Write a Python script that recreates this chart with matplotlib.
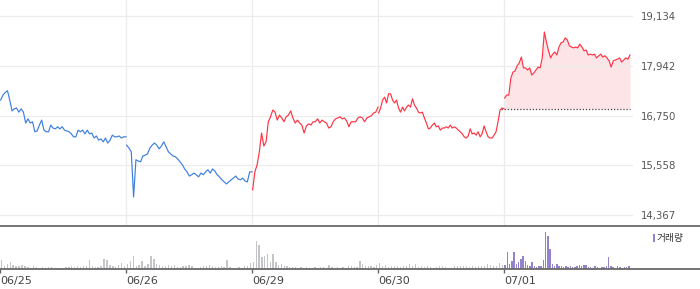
import numpy as np
import matplotlib
matplotlib.use("Agg")
import matplotlib.pyplot as plt
from matplotlib.patches import Rectangle
from matplotlib.lines import Line2D

matplotlib.rcParams['font.family'] = ['DejaVu Sans']

# x-axis day labels
days = ["06/25", "06/26", "06/29", "06/30", "07/01"]

# 5-minute prices for each trading day
price_d1 = [17120, 17240, 17300, 17345, 17120, 16860, 16910, 16930, 16830, 16910, 16830, 16570,
            16670, 16570, 16600, 16360, 16380, 16520, 16640, 16400, 16360, 16360, 16520, 16450,
            16430, 16480, 16430, 16480, 16400, 16380, 16360, 16310, 16240, 16240, 16400, 16360,
            16400, 16310, 16400, 16310, 16330, 16210, 16260, 16160, 16190, 16120, 16210, 16090,
            16160, 16280, 16240, 16240, 16260, 16210, 16240, 16240]
price_d2 = [16040, 15970, 15880, 14800, 15690, 15660, 15640, 15780, 15800, 15830, 15970, 16040,
            16090, 16040, 15950, 16020, 16120, 16000, 15880, 15830, 15780, 15760, 15710, 15640,
            15570, 15470, 15400, 15300, 15330, 15370, 15330, 15280, 15370, 15330, 15400, 15450,
            15370, 15470, 15420, 15330, 15280, 15210, 15160, 15110, 15160, 15210, 15250, 15300,
            15230, 15210, 15250, 15180, 15160, 15400, 15400]
price_d3 = [14970, 15400, 15570, 15880, 16330, 16020, 16120, 16600, 16720, 16880, 16830, 16640,
            16760, 16690, 16600, 16720, 16760, 16860, 16690, 16570, 16640, 16570, 16520, 16330,
            16500, 16550, 16520, 16600, 16600, 16670, 16570, 16640, 16600, 16570, 16450, 16480,
            16600, 16670, 16690, 16720, 16670, 16690, 16620, 16480, 16600, 16600, 16600, 16690,
            16720, 16690, 16600, 16690, 16720, 16740, 16810, 16830, 16950]
price_d4 = [16810, 16930, 17120, 17190, 17050, 17270, 17270, 17120, 17050, 17120, 16930, 16830,
            16950, 16860, 16950, 17000, 16950, 17150, 17000, 16930, 16830, 16810, 16830, 16690,
            16570, 16430, 16450, 16520, 16570, 16480, 16500, 16400, 16450, 16450, 16480, 16450,
            16520, 16450, 16480, 16450, 16400, 16360, 16310, 16240, 16210, 16260, 16430, 16310,
            16330, 16280, 16360, 16240, 16310, 16500, 16360, 16240, 16210, 16210, 16280, 16360,
            16600, 16880, 16930, 16910]
price_d5 = [17170, 17240, 17240, 17650, 17790, 17820, 17940, 18010, 18150, 17890, 17890, 17840,
            17890, 17720, 17770, 17840, 17910, 17890, 18130, 18750, 18510, 18300, 18130, 18220,
            18270, 18200, 18390, 18490, 18510, 18610, 18560, 18420, 18390, 18370, 18390, 18370,
            18460, 18390, 18300, 18320, 18200, 18220, 18200, 18220, 18130, 18180, 18220, 18150,
            18180, 18130, 18060, 17910, 18060, 18080, 18100, 18130, 18030, 18080, 18130, 18100,
            18200]
prev_close = 16910

# volume (thousand shares) per interval
vol_d1 = [90, 30, 50, 70, 40, 30, 30, 40, 30, 20, 10, 30, 20, 10, 20, 10, 20, 20, 10, 10, 0, 0,
          20, 20, 30, 20, 30, 20, 30, 30, 90, 30, 20, 20, 30, 100, 90, 40, 30, 20, 40, 60, 30]
vol_d2 = [50, 80, 130, 30, 40, 80, 30, 50, 130, 100, 50, 40, 30, 30, 40, 30, 40, 20, 20, 30, 30,
          40, 30, 10, 10, 20, 30, 30, 40, 30, 20, 20, 30, 20, 90, 20, 10, 10, 20, 10, 30, 30, 60]
vol_d3 = [70, 280, 240, 120, 130, 150, 70, 150, 70, 40, 50, 30, 30, 20, 20, 20, 10, 20, 10, 20,
          10, 10, 20, 10, 20, 20, 10, 40, 20, 10, 20, 10, 20, 10, 30, 30, 20, 20, 80, 50, 30, 30,
          30, 20, 40]
vol_d4 = [60, 30, 40, 20, 30, 30, 30, 20, 30, 30, 50, 30, 50, 20, 30, 20, 30, 20, 10, 20, 30, 30,
          20, 0, 0, 30, 30, 30, 30, 30, 20, 30, 20, 30, 30, 30, 50, 40, 30, 30, 60, 40]
vol_d5 = [40, 170, 50, 80, 170, 50, 70, 100, 130, 80, 40, 30, 70, 30, 20, 30, 30, 90, 370, 330,
          200, 50, 30, 50, 30, 30, 20, 30, 20, 30, 20, 20, 30, 40, 30, 40, 40, 20, 20, 10, 30, 20,
          10, 20, 20, 30, 120, 30, 20, 10, 30, 20, 10, 20, 20, 30]

yticks = [14367, 15558, 16750, 17942, 19134]

prices = [price_d1, price_d2, price_d3, price_d4, price_d5]
vols = [vol_d1, vol_d2, vol_d3, vol_d4, vol_d5]
line_colors = ["#3d7fe0", "#3d7fe0", "#ff3344", "#ff3344", "#ff3344"]
bar_colors = ["#c4c5c9", "#c4c5c9", "#c4c5c9", "#c4c5c9", "#9482cc"]

W, H = 700, 289
fig = plt.figure(figsize=(W / 100, H / 100), dpi=100)
xmax = 633 / 126

# price panel
ax = fig.add_axes([0, (H - 226) / H, 633 / W, 226 / H])
ax.set_xlim(0, xmax)
ax.set_ylim(14103, 19517)
for d in range(5):
    p = prices[d]
    x = d + 0.005 + np.arange(len(p)) / (len(p) - 1) * 0.995
    if d == 4:
        ax.fill_between(x, p, prev_close, color="#fde4e7", lw=0, zorder=1)
        ax.hlines(prev_close, 3.98, x[-1], colors="#444444", linestyles=(0, (1, 1.5)), lw=0.9, zorder=2)
    ax.plot(x, p, color=line_colors[d], lw=0.85, zorder=3)

ax.set_yticks(yticks)
ax.set_yticklabels(["{:,}".format(v) for v in yticks])
ax.yaxis.tick_right()
ax.tick_params(axis='y', length=0, pad=6, labelsize=7.3, labelcolor="#555555")
ax.set_xticks([1, 2, 3, 4])
ax.tick_params(axis='x', length=0, labelbottom=False)
ax.grid(True, color="#ececec", lw=0.9, zorder=0)
for s in ax.spines.values():
    s.set_visible(False)

# volume panel
vx = fig.add_axes([0, (H - 269) / H, 633 / W, 41 / H])
vx.set_xlim(0, xmax)
vx.set_ylim(0, 410)
for d in range(5):
    v = vols[d]
    x = d + (np.arange(len(v)) + 0.5) / len(v)
    vx.bar(x, v, width=1.4 / 126, color=bar_colors[d], lw=0)
vx.set_yticks([])
vx.set_xticks(range(5))
vx.set_xticklabels(days, ha='left')
vx.tick_params(axis='x', length=3, width=1, color="#666666", pad=2, labelsize=8, labelcolor="#444444")
for s in vx.spines.values():
    s.set_visible(False)

# separator lines across the full width
for yy in [226, 269]:
    fig.add_artist(Line2D([0, 1], [(H - yy) / H, (H - yy) / H], color="#6a6a6a", lw=1.3))

# volume legend
fig.add_artist(Rectangle((652.5 / W, (H - 242) / H), 2.7 / W, 8 / H, color="#9482cc", lw=0))
fig.text(657 / W, (H - 238) / H, "거래량", family=['Noto Sans CJK KR', 'DejaVu Sans'],
         fontsize=7, color="#333333", va='center', ha='left')

fig.savefig("out.png", dpi=100)
